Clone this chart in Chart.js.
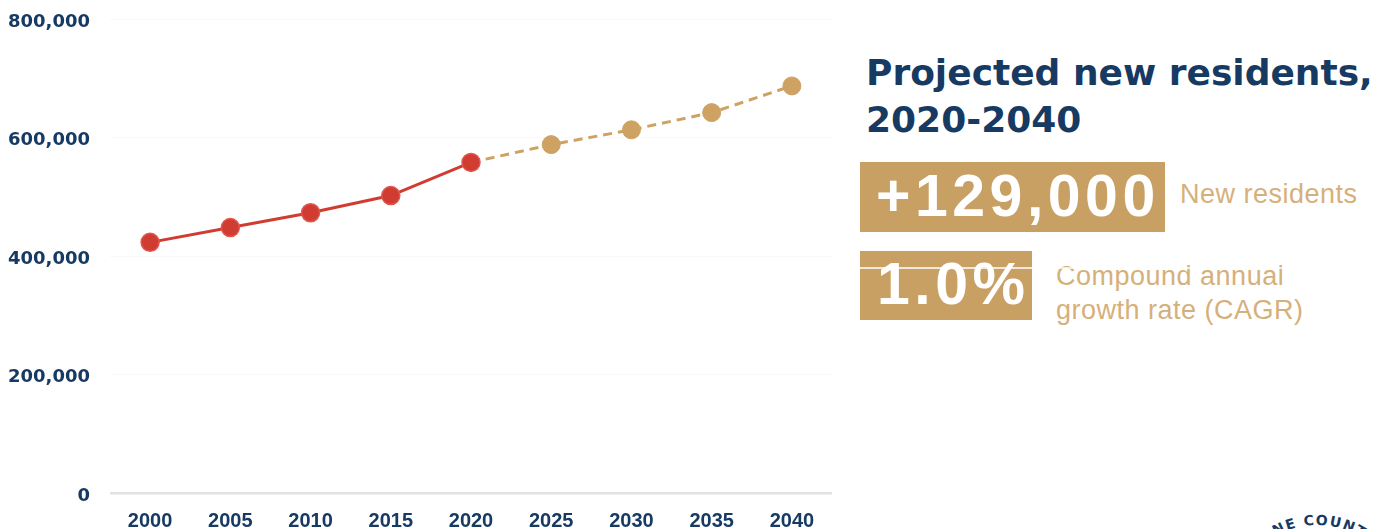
<!DOCTYPE html>
<html>
<head>
<meta charset="utf-8">
<title>Population growth</title>
<script src="https://cdn.jsdelivr.net/npm/chart.js@4.4.1/dist/chart.umd.min.js"></script>
<style>
  body { margin: 0; width: 1396px; height: 529px; overflow: hidden; background: #fff; position: relative; }
  #chartBox { position: absolute; left: 0; top: 0; width: 850px; height: 529px; }
  .title { position: absolute; left: 866px; top: 49px; font: 700 36px "DejaVu Sans", sans-serif; line-height: 47px; color: #173a63; white-space: nowrap; }
  .box { position: absolute; left: 860px; background: #c9a063; }
  .big { position: absolute; font: 700 59px "Liberation Sans", Arial, sans-serif; line-height: 59px; color: #fff; letter-spacing: 4.5px; white-space: nowrap; }
  .note { position: absolute; font: 400 27px "Liberation Sans", Arial, sans-serif; line-height: 34px; color: #d6b07a; letter-spacing: 0.5px; white-space: nowrap; }
  .streak { position: absolute; left: 858px; top: 267px; width: 440px; height: 2px; background: rgba(255,255,255,0.75); }
  #seal { position: absolute; left: 1250px; top: 480px; width: 146px; height: 49px; overflow: hidden; }
</style>
</head>
<body>
<div id="chartBox"><canvas id="popChart" width="850" height="529"></canvas></div>

<div class="title">Projected new residents,<br>2020-2040</div>

<div class="box" style="top:162px;width:305px;height:70px;"></div>
<div class="big" style="left:876px;top:167px;">+129,000</div>
<div class="note" style="left:1180px;top:177px;">New residents</div>

<div class="box" style="top:251px;width:172px;height:69px;"></div>
<div class="big" style="left:877px;top:255px;">1.0%</div>
<div class="note" style="left:1056px;top:259px;">Compound annual<br>growth rate (CAGR)</div>
<div class="streak"></div>

<svg id="seal" viewBox="0 0 146 49">
  <defs><path id="sealArc" d="M -19 131 A 86 86 0 0 1 153 131"></path></defs>
  <text font-family="DejaVu Sans, sans-serif" font-weight="700" font-size="14" letter-spacing="1.5" fill="#173a63">
    <textPath href="#sealArc" startOffset="91">NE COUNTY</textPath>
  </text>
</svg>

<script>
const years = ["2000", "2005", "2010", "2015", "2020", "2025", "2030", "2035", "2040"];
const actualPop = [423000, 448000, 473000, 502000, 558000, null, null, null, null];
const projectedPop = [null, null, null, null, 558000, 588000, 613000, 642000, 687000];
const yTicks = [0, 200000, 400000, 600000, 800000];

const navy = "#173a63";
const red = "#d13c32";
const gold = "#cda263";

const ctx = document.getElementById("popChart").getContext("2d");

const popChart = new Chart(ctx, {
  type: "line",
  data: {
    labels: years,
    datasets: [
      {
        label: "Population",
        data: actualPop,
        borderColor: red,
        backgroundColor: red,
        borderWidth: 3,
        pointRadius: 9,
        pointBorderWidth: 1.5,
        pointBorderColor: "#e0574c",
        order: 0,
      },
      {
        label: "Projection",
        data: projectedPop,
        borderColor: gold,
        backgroundColor: gold,
        borderWidth: 3,
        borderDash: [9, 6],
        pointRadius: (c) => (c.dataIndex === 4 ? 0 : 9),
        pointBorderWidth: 1,
        order: 1,
      },
    ],
  },
  options: {
    responsive: false,
    animation: false,
    layout: { padding: { top: 19, right: 18, left: 0, bottom: 0 } },
    plugins: { legend: { display: false }, tooltip: { enabled: false } },
    scales: {
      x: {
        offset: true,
        grid: { display: false },
        border: { display: false },
        ticks: {
          color: navy,
          padding: 8,
          font: { family: "Liberation Sans", weight: "bold", size: 20 },
        },
        afterFit: (scale) => { scale.height = 36; },
      },
      y: {
        min: 0,
        max: 800000,
        border: { display: false },
        grid: {
          drawTicks: false,
          color: (c) => (c.tick.value === 0 ? "#e2e2e2" : "rgba(0,0,0,0.025)"),
          lineWidth: (c) => (c.tick.value === 0 ? 2.5 : 1),
        },
        afterBuildTicks: (scale) => { scale.ticks = yTicks.map((v) => ({ value: v })); },
        // label gap is wide, keep it from pushing the plot area down
        afterFit: (scale) => {
          scale.width = 110;
          scale.paddingTop = 0;
          scale.paddingBottom = 0;
        },
        ticks: {
          color: navy,
          padding: 20,
          labelOffset: 3,
          font: { family: "DejaVu Sans", weight: "bold", size: 18 },
          callback: (v) => v.toLocaleString("en-US"),
        },
      },
    },
  },
});
</script>
</body>
</html>
